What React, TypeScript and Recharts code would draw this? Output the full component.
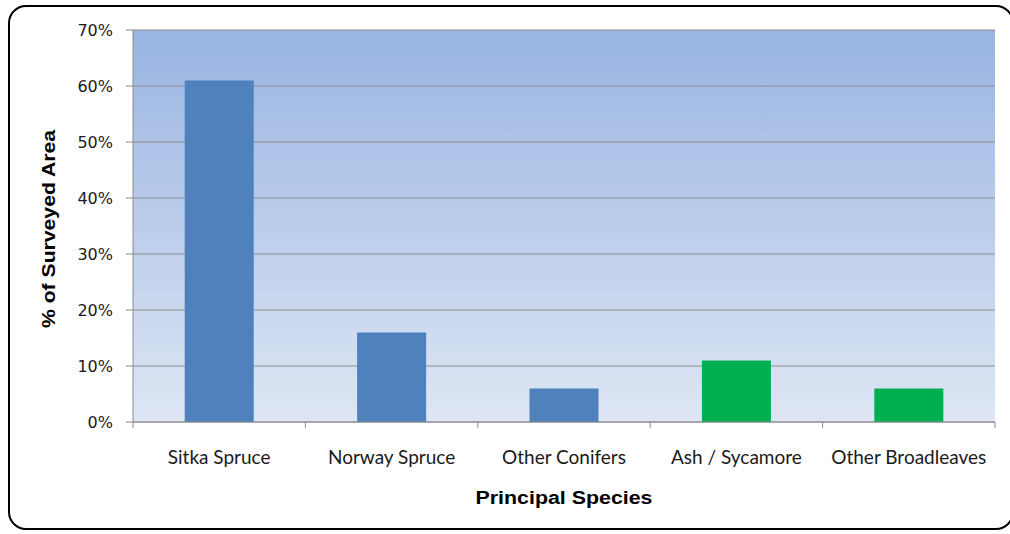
import React from 'react';
import { BarChart, Bar, XAxis, YAxis, CartesianGrid, Cell, Label } from 'recharts';

// Share of surveyed area by principal species (%)
const species = ['Sitka Spruce', 'Norway Spruce', 'Other Conifers', 'Ash / Sycamore', 'Other Broadleaves'];
const shareOfArea = [61, 16, 6, 11, 6];
const speciesGroup = ['conifer', 'conifer', 'conifer', 'broadleaf', 'broadleaf'];
const yTicks = [0, 10, 20, 30, 40, 50, 60, 70];

const xTitle = 'Principal Species';
const yTitle = '% of Surveyed Area';

const groupColor: Record<string, string> = {
  conifer: '#4F81BD',
  broadleaf: '#00B050',
};

const data = species.map((name, i) => ({
  name,
  value: shareOfArea[i],
  group: speciesGroup[i],
}));

const W = 1010;
const H = 534;
const MARGIN = { top: 30, right: 15, left: 0, bottom: 12 };
const Y_AXIS_W = 133;
const PLOT_W = W - MARGIN.left - MARGIN.right - Y_AXIS_W;

const axisGrey = '#8C8C8C';

const titleFont = {
  fill: '#000',
  fontSize: 18,
  fontWeight: 'bold' as const,
  fontFamily: '"Liberation Sans", Arial, sans-serif',
};

// Category label plus boundary tick marks between categories
const CategoryTick = (props: any) => {
  const { x, y, payload, index, visibleTicksCount } = props;
  const half =
    payload && typeof payload.offset === 'number' && payload.offset > 0
      ? payload.offset
      : PLOT_W / species.length / 2;
  const count = visibleTicksCount ?? species.length;
  return (
    <g>
      <line x1={x - half} y1={y} x2={x - half} y2={y + 6} stroke={axisGrey} />
      {index === count - 1 && (
        <line x1={x + half} y1={y} x2={x + half} y2={y + 6} stroke={axisGrey} />
      )}
      <text
        x={x}
        y={y + 42}
        textAnchor="middle"
        fill="#1a1a1a"
        style={{ fontSize: 19, fontFamily: 'Lato, "Open Sans", sans-serif' }}
      >
        {payload.value}
      </text>
    </g>
  );
};

// Axis title under the category axis, centred on the plot
const XTitle = (props: any) => {
  const vb = props.viewBox || { x: 133, y: 422, width: 862, height: 100 };
  const cx = vb.x + vb.width / 2;
  const y = vb.y + 82;
  return (
    <text
      x={cx}
      y={y}
      textAnchor="middle"
      textLength={177}
      lengthAdjust="spacingAndGlyphs"
      style={titleFont}
    >
      {xTitle}
    </text>
  );
};

// Rotated title beside the value axis
const YTitle = (props: any) => {
  const vb = props.viewBox || { x: 0, y: 30, width: 133, height: 392 };
  const x = 55;
  const cy = vb.y + vb.height / 2 + 3;
  return (
    <text
      x={x}
      y={cy}
      transform={`rotate(-90 ${x} ${cy})`}
      textAnchor="middle"
      textLength={198}
      lengthAdjust="spacingAndGlyphs"
      style={titleFont}
    >
      {yTitle}
    </text>
  );
};

export default function App() {
  return (
    <div
      style={{
        position: 'fixed',
        left: 0,
        top: 0,
        width: W,
        height: H,
        overflow: 'hidden',
        background: '#ffffff',
      }}
    >
      <div
        style={{
          position: 'absolute',
          left: 8,
          top: 5,
          width: 1006,
          height: 525,
          border: '2px solid #000',
          borderRadius: 18,
          boxSizing: 'border-box',
        }}
      />
      <div style={{ position: 'absolute', left: 0, top: 0 }}>
        <BarChart
          width={W}
          height={H}
          data={data}
          margin={MARGIN}
          barCategoryGap="30%"
        >
          <defs>
            <linearGradient id="plotBg" x1="0" y1="0" x2="0" y2="1">
              <stop offset="0%" stopColor="#99B4E2" />
              <stop offset="100%" stopColor="#DEE6F4" />
            </linearGradient>
          </defs>
          <CartesianGrid
            vertical={false}
            stroke={axisGrey}
            strokeWidth={1}
            fill="url(#plotBg)"
            fillOpacity={1}
          />
          <XAxis
            dataKey="name"
            height={100}
            tickLine={false}
            axisLine={{ stroke: axisGrey }}
            tickSize={0}
            tickMargin={0}
            interval={0}
            tick={CategoryTick}
          >
            <Label content={XTitle} />
          </XAxis>
          <YAxis
            width={Y_AXIS_W}
            domain={[0, 70]}
            ticks={yTicks}
            interval={0}
            tickFormatter={(v: number) => `${v}%`}
            tickSize={7}
            tickMargin={13}
            tickLine={{ stroke: axisGrey }}
            axisLine={{ stroke: axisGrey }}
            tick={{ fill: '#1a1a1a', fontSize: 16, fontFamily: '"DejaVu Sans", Verdana, sans-serif' }}
          >
            <Label content={YTitle} />
          </YAxis>
          <Bar dataKey="value" isAnimationActive={false}>
            {data.map((d) => (
              <Cell key={d.name} fill={groupColor[d.group]} />
            ))}
          </Bar>
        </BarChart>
      </div>
    </div>
  );
}
